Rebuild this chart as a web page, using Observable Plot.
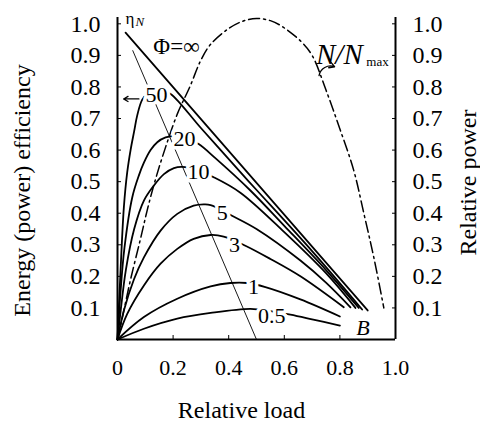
<!DOCTYPE html>
<html><head><meta charset="utf-8">
<script src="https://cdn.jsdelivr.net/npm/d3@7"></script>
<script src="https://cdn.jsdelivr.net/npm/@observablehq/plot@0.6"></script>
<style>
html,body{margin:0;padding:0;background:#fff;}
#chart svg, #chart svg text { font-family: "Liberation Serif", "Times New Roman", Times, "DejaVu Serif", serif !important; }
</style>
</head><body><div id="chart"></div>
<script>
// ---- ticks ----
const xTicks = [0, 0.2, 0.4, 0.6, 0.8, 1.0];
const xTickLabels = ["0", "0.2", "0.4", "0.6", "0.8", "1.0"];
const yTicks = [0.1, 0.2, 0.3, 0.4, 0.5, 0.6, 0.7, 0.8, 0.9, 1.0];
const yTickLabels = ["0.1", "0.2", "0.3", "0.4", "0.5", "0.6", "0.7", "0.8", "0.9", "1.0"];

// ---- efficiency curves (relative load, efficiency) ----
const loadInf = [0.029, 0.90];
const effInf  = [0.972, 0.092];
const load50 = [0, 0.01, 0.023, 0.035, 0.047, 0.06, 0.071, 0.089, 0.11, 0.13, 0.16, 0.191, 0.30, 0.442, 0.502, 0.70, 0.88];
const eff50  = [0, 0.20, 0.42, 0.53, 0.60, 0.66, 0.71, 0.76, 0.78, 0.79, 0.788, 0.778, 0.67, 0.53, 0.472, 0.28, 0.095];
const load20 = [0, 0.01, 0.025, 0.053, 0.077, 0.095, 0.119, 0.143, 0.173, 0.21, 0.25, 0.292, 0.35, 0.478, 0.60, 0.75, 0.868];
const eff20  = [0, 0.14, 0.29, 0.45, 0.52, 0.56, 0.60, 0.625, 0.64, 0.645, 0.637, 0.619, 0.576, 0.472, 0.36, 0.22, 0.10];
const load10 = [0, 0.01, 0.03, 0.06, 0.095, 0.131, 0.167, 0.203, 0.233, 0.29, 0.346, 0.442, 0.60, 0.75, 0.856];
const eff10  = [0, 0.08, 0.22, 0.35, 0.44, 0.488, 0.524, 0.543, 0.547, 0.535, 0.514, 0.465, 0.34, 0.21, 0.10];
const load5 = [0, 0.023, 0.059, 0.095, 0.155, 0.215, 0.274, 0.31, 0.335, 0.412, 0.50, 0.658, 0.75, 0.838];
const eff5  = [0, 0.092, 0.19, 0.26, 0.345, 0.398, 0.424, 0.428, 0.426, 0.392, 0.35, 0.25, 0.18, 0.102];
const load3 = [0, 0.035, 0.095, 0.155, 0.215, 0.274, 0.335, 0.382, 0.46, 0.55, 0.658, 0.814];
const eff3  = [0, 0.081, 0.171, 0.24, 0.287, 0.319, 0.331, 0.326, 0.297, 0.255, 0.20, 0.102];
const load1 = [0, 0.095, 0.215, 0.335, 0.406, 0.466, 0.532, 0.658, 0.80];
const eff1  = [0, 0.071, 0.129, 0.168, 0.179, 0.179, 0.166, 0.127, 0.073];
const load05 = [0, 0.095, 0.215, 0.335, 0.478, 0.55, 0.622, 0.70, 0.80];
const eff05  = [0, 0.034, 0.066, 0.084, 0.097, 0.09, 0.079, 0.064, 0.044];

// ---- relative power N/Nmax (dash-dot) ----
const powerLoad = [0, 0.02, 0.047, 0.083, 0.107, 0.131, 0.161, 0.215, 0.26, 0.30, 0.335, 0.40, 0.45, 0.50, 0.55, 0.586, 0.658, 0.70, 0.75, 0.80, 0.85, 0.886, 0.922, 0.958];
const powerRel  = [0, 0.08, 0.19, 0.32, 0.41, 0.49, 0.577, 0.714, 0.80, 0.885, 0.935, 0.985, 1.008, 1.017, 1.01, 0.995, 0.946, 0.90, 0.79, 0.667, 0.535, 0.40, 0.26, 0.10];

// ---- locus of maxima (thin line) ----
const locusLoad = [0.055, 0.5];
const locusEff  = [0.915, 0];

// ---- curve labels ----
const curveLabels = ["50", "20", "10", "5", "3", "1", "0.5"];
const curveLabelX = [0.140, 0.241, 0.291, 0.377, 0.421, 0.489, 0.555];
const curveLabelY = [0.774, 0.634, 0.530, 0.402, 0.300, 0.168, 0.076];

// ---- annotations ----
const arrowX1 = [0.077, 0.725];
const arrowY1 = [0.762, 0.836];
const arrowX2 = [0.022, 0.781];
const arrowY2 = [0.762, 0.864];
const arrowBend = [0, 50];

const mk = (phi, xs, ys) => xs.map((x, i) => ({phi, x, y: ys[i]}));
const curves = [
  ...mk("inf", loadInf, effInf), ...mk("50", load50, eff50), ...mk("20", load20, eff20),
  ...mk("10", load10, eff10), ...mk("5", load5, eff5), ...mk("3", load3, eff3),
  ...mk("1", load1, eff1), ...mk("0.5", load05, eff05)
];
const power = powerLoad.map((x, i) => ({x, y: powerRel[i]}));
const locus = locusLoad.map((x, i) => ({x, y: locusEff[i]}));
const labels = curveLabels.map((t, i) => ({t, x: curveLabelX[i], y: curveLabelY[i]}));
const arrows = arrowX1.map((x1, i) => ({x1, y1: arrowY1[i], x2: arrowX2[i], y2: arrowY2[i]}));

const serif = "Liberation Serif, DejaVu Serif, serif";

const chart = Plot.plot({
  width: 480, height: 424,
  marginLeft: 117, marginRight: 85, marginTop: 17, marginBottom: 85,
  style: {fontFamily: serif, fontSize: "22px", background: "white", color: "black"},
  x: {domain: [0, 1], axis: null},
  y: {domain: [0, 1.02], axis: null},
  marks: [
    Plot.line(locus, {x: "x", y: "y", stroke: "black", strokeWidth: 0.9}),
    Plot.line(power, {x: "x", y: "y", curve: "catmull-rom", stroke: "black", strokeWidth: 1.5, strokeDasharray: "11,4,2,4"}),
    Plot.line(curves, {x: "x", y: "y", z: "phi", curve: "catmull-rom", stroke: "black", strokeWidth: 1.8}),
    Plot.text(labels, {x: "x", y: "y", text: "t", fontSize: 22, fontFamily: serif, fill: "black", stroke: "white", strokeWidth: 7, lineAnchor: "middle"}),
    Plot.text(["Φ=∞"], {x: 0.212, y: 0.927, fontSize: 23, fontFamily: serif, lineAnchor: "middle"}),
    Plot.text(["B"], {x: 0.883, y: 0.036, fontSize: 22, fontFamily: serif, fontStyle: "italic", lineAnchor: "middle"}),
    Plot.text(["η"], {x: 0.029, y: 1.0, fontSize: 17, fontFamily: serif, textAnchor: "start", lineAnchor: "bottom"}),
    Plot.text(["N"], {x: 0.065, y: 0.994, fontSize: 13, fontFamily: serif, fontStyle: "italic", textAnchor: "start", lineAnchor: "bottom"}),
    Plot.text(["N/N"], {x: 0.714, y: 0.872, fontSize: 29, fontFamily: serif, fontStyle: "italic", textAnchor: "start", lineAnchor: "bottom"}),
    Plot.text(["max"], {x: 0.895, y: 0.867, fontSize: 13, fontFamily: serif, textAnchor: "start", lineAnchor: "bottom"}),
    Plot.arrow(arrows.slice(0, 1), {x1: "x1", y1: "y1", x2: "x2", y2: "y2", stroke: "black", strokeWidth: 1.3, headLength: 7}),
    Plot.arrow(arrows.slice(1), {x1: "x1", y1: "y1", x2: "x2", y2: "y2", stroke: "black", strokeWidth: 1.3, headLength: 7, bend: arrowBend[1]}),
    Plot.ruleX([0, 1], {stroke: "black", strokeWidth: 2}),
    Plot.ruleY([0], {stroke: "black", strokeWidth: 2}),
    Plot.axisX(xTicks, {anchor: "bottom", tickSize: -4, tickPadding: 24, fontSize: 22, fontFamily: serif,
      tickFormat: d => xTickLabels[xTicks.indexOf(d)], label: null}),
    Plot.axisY(yTicks, {anchor: "left", tickSize: -4, tickPadding: 21, fontSize: 24, fontFamily: serif,
      tickFormat: d => yTickLabels[yTicks.indexOf(d)], label: null}),
    Plot.axisY(yTicks, {anchor: "right", tickSize: -4, tickPadding: 21, fontSize: 24, fontFamily: serif,
      tickFormat: d => yTickLabels[yTicks.indexOf(d)], label: null}),
    Plot.text(["Energy (power) efficiency"], {frameAnchor: "left", dx: -95, dy: 12, rotate: -90, fontSize: 24, fontFamily: serif, textAnchor: "middle", lineAnchor: "middle"}),
    Plot.text(["Relative power"], {frameAnchor: "right", dx: 73, dy: 4, rotate: -90, fontSize: 24, fontFamily: serif, textAnchor: "middle", lineAnchor: "middle"}),
    Plot.text(["Relative load"], {frameAnchor: "bottom", dx: -15, dy: 71, fontSize: 24, fontFamily: serif, textAnchor: "middle", lineAnchor: "middle"})
  ]
});
document.getElementById("chart").appendChild(chart);
</script>
</body></html>
